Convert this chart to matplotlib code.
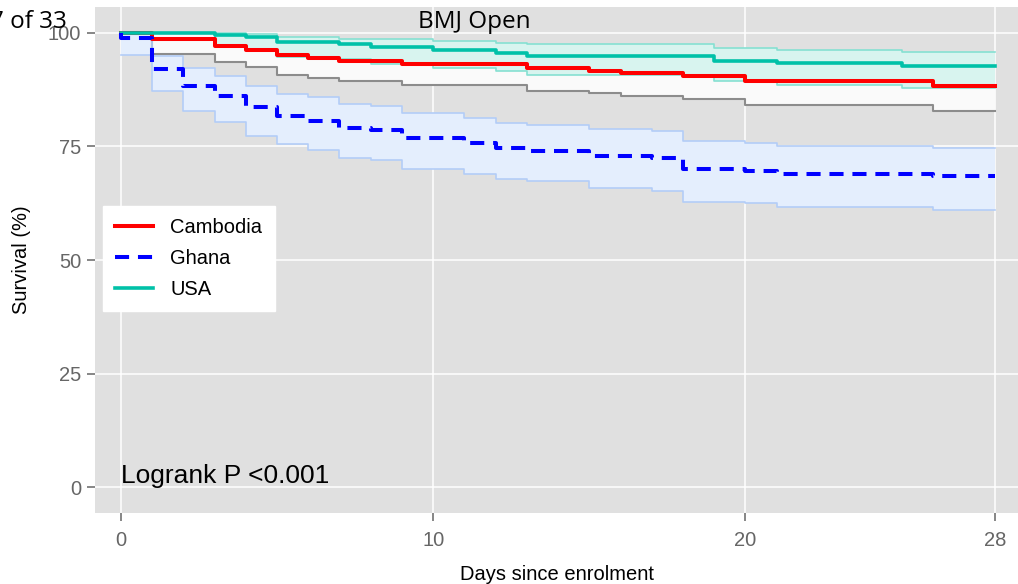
import matplotlib
matplotlib.use("Agg")

import matplotlib.pyplot as plt
from matplotlib.lines import Line2D

# ---------------------------------------------------------------------------
# Data (survival %, with 95% CI)
# ---------------------------------------------------------------------------

cambodia_days = [0, 1, 3, 4, 5, 6, 7, 9, 13, 15, 16, 18, 20, 26, 28]
cambodia_surv = [100, 98.7, 97.2, 96.3, 95.2, 94.4, 93.8, 93.2, 92.2, 91.7, 91.1, 90.5, 89.5, 88.3, 88.3]
cambodia_low = [100, 95.4, 93.7, 92.4, 90.7, 90.1, 89.3, 88.5, 87.3, 86.7, 86.0, 85.5, 84.1, 82.7, 82.7]
cambodia_high = [100, 100, 99.8, 99.4, 98.9, 98.6, 98.2, 97.5, 97.1, 96.8, 96.3, 95.9, 95.0, 94.0, 94.0]

ghana_days = [0, 0, 1, 2, 3, 4, 5, 6, 7, 8, 9, 11, 12, 13, 15, 17, 18, 20, 21, 26, 28]
ghana_surv = [100, 98.9, 92.1, 88.3, 86.2, 83.6, 81.8, 80.7, 79.0, 78.6, 76.8, 75.7, 74.6, 74.0,
              73.0, 72.4, 70.0, 69.6, 69.0, 68.4, 68.4]
ghana_low = [95.2, 95.2, 87.2, 82.8, 80.3, 77.4, 75.6, 74.2, 72.5, 72.0, 70.0, 68.9, 67.8, 67.3,
             65.9, 65.3, 62.8, 62.5, 61.7, 61.0, 61.0]
ghana_high = [100, 100, 95.0, 92.2, 90.4, 88.2, 86.6, 85.8, 84.3, 83.8, 82.3, 81.2, 80.2, 79.7,
              78.8, 78.3, 76.1, 75.7, 75.2, 74.6, 74.6]

usa_days = [0, 3, 4, 5, 7, 8, 10, 12, 13, 19, 21, 25, 28]
usa_surv = [100, 99.6, 99.0, 97.9, 97.6, 96.8, 96.2, 95.6, 95.0, 93.9, 93.3, 92.8, 92.8]
usa_low = [100, 97.4, 96.2, 94.6, 94.2, 93.1, 92.2, 91.5, 90.7, 89.3, 88.5, 87.8, 87.8]
usa_high = [100, 100, 99.8, 99.1, 98.7, 98.7, 98.2, 97.7, 97.5, 96.6, 96.3, 95.8, 95.8]

x_ticks = [0, 10, 20, 28]
y_ticks = [0, 25, 50, 75, 100]
legend_labels = ["Cambodia", "Ghana", "USA"]

# ---------------------------------------------------------------------------
# Styling
# ---------------------------------------------------------------------------

plt.rcParams["font.family"] = ["Liberation Sans", "DejaVu Sans"]

PANEL_BG = "#E0E0E0"
RED = "#FF0000"
BLUE = "#0000FF"
TEAL = "#00C1A8"
TICK_GREY = "#666666"
GHANA_DASH = (3.5, 2.2)

fig = plt.figure(figsize=(10.18, 5.84), dpi=100)
ax = fig.add_axes([95 / 1018, 1 - 513 / 584, 1 - 95 / 1018, (513 - 7) / 584])
ax.set_facecolor(PANEL_BG)
for side in ax.spines.values():
    side.set_visible(False)

# --- Confidence bands -------------------------------------------------------
ax.fill_between(cambodia_days, cambodia_low, cambodia_high, step="post",
                color="#FAFAFA", linewidth=0, zorder=2)
ax.step(cambodia_days, cambodia_low, where="post", color="#8C8C8C", lw=1.5, zorder=2.1)

ax.fill_between(ghana_days, ghana_low, ghana_high, step="post",
                color="#E4EEFD", linewidth=0, zorder=2)
ax.step(ghana_days, ghana_low, where="post", color="#B3CDF7", lw=1.2, zorder=2.1)
ax.step(ghana_days, ghana_high, where="post", color="#B3CDF7", lw=1.2, zorder=2.1)

ax.fill_between(usa_days, usa_low, usa_high, step="post",
                color="#D8F4EF", linewidth=0, zorder=2.2)
ax.step(usa_days, usa_low, where="post", color="#86E0D2", lw=1.2, zorder=2.3)
ax.step(usa_days, usa_high, where="post", color="#86E0D2", lw=1.2, zorder=2.3)

# --- Survival curves --------------------------------------------------------
ax.step(cambodia_days, cambodia_surv, where="post", color=RED, lw=2.9, zorder=3)
ax.step(usa_days, usa_surv, where="post", color=TEAL, lw=2.6, zorder=3.1)
ax.step(ghana_days, ghana_surv, where="post", color=BLUE, lw=2.9,
        dashes=GHANA_DASH, zorder=3.2)

# --- Axes -------------------------------------------------------------------
ax.set_xlim(-0.83, 28.73)
ax.set_ylim(-5.7, 105.7)
ax.set_xticks(x_ticks)
ax.set_yticks(y_ticks)
ax.grid(True, color="white", lw=1.1, zorder=1)
ax.set_axisbelow(True)
ax.tick_params(axis="both", colors=TICK_GREY, labelsize=14.5, length=6, width=1.1)
ax.tick_params(axis="x", pad=7)
ax.tick_params(axis="y", pad=4)
ax.set_xlabel("Days since enrolment", fontsize=14.5, labelpad=11)
ax.set_ylabel("Survival (%)", fontsize=14.5, labelpad=12)

ax.text(0, 1.0, "Logrank P <0.001", fontsize=19, va="baseline", ha="left", zorder=4)

# --- Legend -----------------------------------------------------------------
handles = [
    Line2D([], [], color=RED, lw=2.9),
    Line2D([], [], color=BLUE, lw=2.9, dashes=GHANA_DASH),
    Line2D([], [], color=TEAL, lw=2.6),
]
leg = ax.legend(handles, legend_labels, loc="upper left",
                bbox_to_anchor=(103 / 1018, 1 - 206 / 584), bbox_transform=fig.transFigure,
                fontsize=14.5, frameon=True, fancybox=False, framealpha=1,
                handlelength=1.9, handletextpad=0.85, labelspacing=0.6,
                borderpad=0.6, borderaxespad=0)
leg.get_frame().set_facecolor("white")
leg.get_frame().set_edgecolor("white")
leg.set_zorder(5)

# --- Page header text -------------------------------------------------------
fig.text(67 / 1018, 1 - 28 / 584, "7 of 33", fontsize=17.5, ha="right", va="baseline",
         family=["Open Sans", "DejaVu Sans"])
fig.text(418 / 1018, 1 - 28 / 584, "BMJ Open", fontsize=17.5, ha="left", va="baseline",
         family=["Open Sans", "DejaVu Sans"])

fig.savefig("out.png", dpi=100)
